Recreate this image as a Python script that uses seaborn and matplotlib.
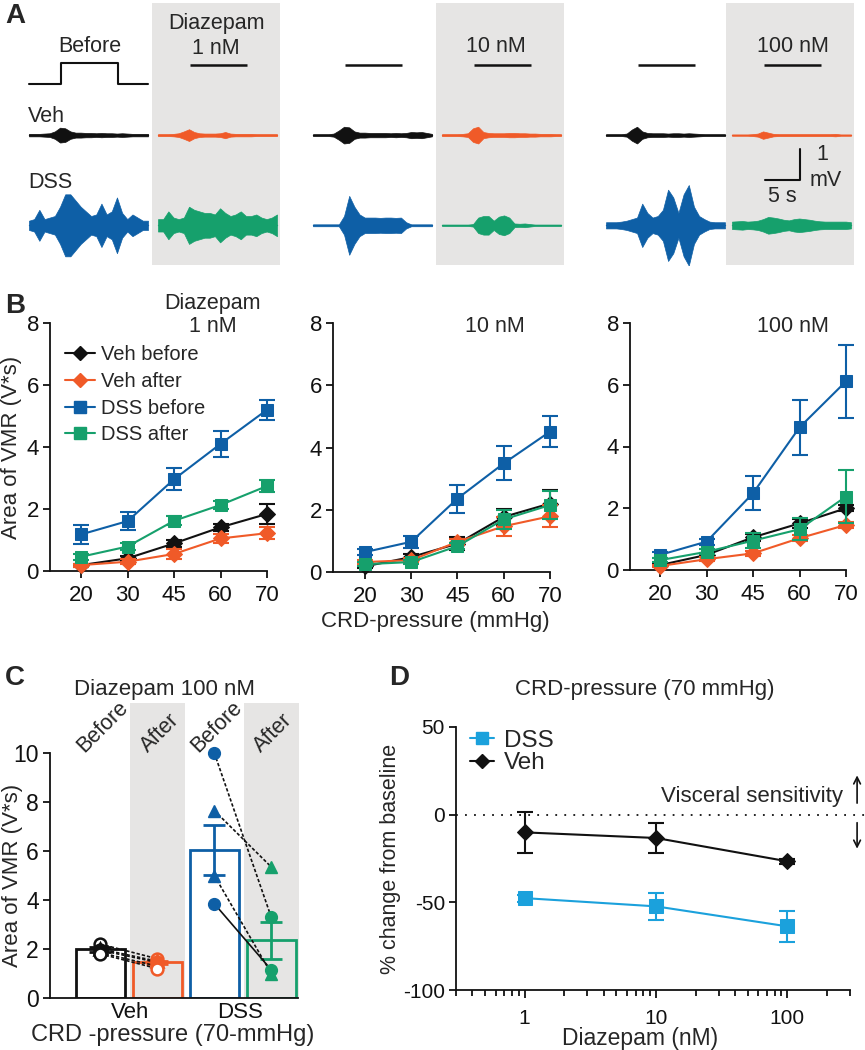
import numpy as np
import matplotlib
matplotlib.use("Agg")
import matplotlib.pyplot as plt
import seaborn as sns
from matplotlib.lines import Line2D
from matplotlib.patches import Rectangle
from matplotlib.ticker import LogLocator, FixedLocator, FixedFormatter, NullFormatter

# ---------------- data ----------------
# panel A: EMG envelopes (mV, half-amplitude), 24 samples over a 17 s sweep
sweep_s = 17
pressure_on = [4.6, 12.7]
conc_labels = ["1 nM", "10 nM", "100 nM"]
veh_before_env = [
    [0.04, 0.04, 0.04, 0.05, 0.06, 0.12, 0.24, 0.22, 0.12, 0.08, 0.08, 0.07, 0.07, 0.06, 0.07, 0.06, 0.06, 0.05, 0.06, 0.05, 0.04, 0.04, 0.04, 0.04],
    [0.03, 0.03, 0.03, 0.03, 0.05, 0.15, 0.27, 0.25, 0.12, 0.08, 0.08, 0.07, 0.07, 0.07, 0.07, 0.06, 0.07, 0.06, 0.07, 0.10, 0.09, 0.10, 0.07, 0.04],
    [0.03, 0.03, 0.03, 0.03, 0.05, 0.18, 0.27, 0.12, 0.07, 0.06, 0.06, 0.06, 0.05, 0.06, 0.06, 0.05, 0.06, 0.05, 0.04, 0.03, 0.03, 0.03, 0.03, 0.03],
]
veh_after_env = [
    [0.03, 0.03, 0.03, 0.04, 0.06, 0.12, 0.19, 0.10, 0.06, 0.05, 0.05, 0.05, 0.06, 0.10, 0.05, 0.04, 0.04, 0.04, 0.04, 0.03, 0.03, 0.03, 0.03, 0.03],
    [0.03, 0.03, 0.03, 0.03, 0.04, 0.06, 0.22, 0.27, 0.10, 0.07, 0.06, 0.06, 0.06, 0.07, 0.07, 0.06, 0.06, 0.05, 0.05, 0.04, 0.04, 0.04, 0.03, 0.03],
    [0.02, 0.02, 0.02, 0.02, 0.03, 0.05, 0.12, 0.08, 0.04, 0.03, 0.03, 0.03, 0.03, 0.03, 0.03, 0.03, 0.03, 0.03, 0.03, 0.03, 0.04, 0.02, 0.02, 0.02],
]
dss_before_env = [
    [0.15, 0.20, 0.50, 0.20, 0.25, 0.30, 0.60, 1.00, 1.00, 0.80, 0.60, 0.45, 0.30, 0.35, 0.70, 0.35, 0.45, 0.90, 0.40, 0.20, 0.35, 0.25, 0.15, 0.15],
    [0.03, 0.03, 0.03, 0.03, 0.03, 0.03, 0.30, 0.95, 0.60, 0.35, 0.25, 0.25, 0.25, 0.24, 0.25, 0.25, 0.24, 0.25, 0.10, 0.03, 0.03, 0.03, 0.03, 0.03],
    [0.10, 0.10, 0.10, 0.12, 0.15, 0.20, 0.25, 0.70, 0.40, 0.25, 0.30, 0.50, 1.15, 0.90, 0.40, 1.00, 1.30, 0.60, 0.30, 0.20, 0.12, 0.10, 0.10, 0.10],
]
dss_after_env = [
    [0.20, 0.20, 0.45, 0.25, 0.20, 0.25, 0.60, 0.50, 0.45, 0.40, 0.40, 0.35, 0.55, 0.40, 0.30, 0.35, 0.45, 0.30, 0.30, 0.35, 0.25, 0.20, 0.25, 0.35],
    [0.02, 0.02, 0.02, 0.02, 0.02, 0.02, 0.04, 0.25, 0.30, 0.30, 0.15, 0.28, 0.32, 0.25, 0.06, 0.05, 0.06, 0.04, 0.02, 0.02, 0.02, 0.02, 0.02, 0.02],
    [0.12, 0.13, 0.14, 0.12, 0.13, 0.15, 0.20, 0.27, 0.25, 0.22, 0.18, 0.16, 0.20, 0.22, 0.20, 0.18, 0.15, 0.13, 0.12, 0.12, 0.12, 0.12, 0.12, 0.10],
]

# panel B: area of VMR (V*s), mean and SEM for 1, 10, 100 nM
pressures = [20, 30, 45, 60, 70]
veh_before_mean = [[0.19, 0.41, 0.89, 1.41, 1.84], [0.18, 0.48, 0.91, 1.77, 2.20], [0.16, 0.49, 1.06, 1.51, 2.00]]
veh_before_sem = [[0.05, 0.08, 0.12, 0.12, 0.33], [0.05, 0.10, 0.20, 0.25, 0.45], [0.04, 0.06, 0.12, 0.15, 0.10]]
veh_after_mean = [[0.19, 0.30, 0.55, 1.05, 1.22], [0.32, 0.38, 0.97, 1.47, 1.79], [0.13, 0.35, 0.54, 1.03, 1.46]]
veh_after_sem = [[0.05, 0.08, 0.17, 0.15, 0.20], [0.05, 0.06, 0.10, 0.30, 0.35], [0.04, 0.06, 0.08, 0.10, 0.10]]
dss_before_mean = [[1.18, 1.61, 2.96, 4.10, 5.20], [0.64, 0.97, 2.36, 3.49, 4.51], [0.49, 0.92, 2.49, 4.62, 6.11]]
dss_before_sem = [[0.30, 0.30, 0.35, 0.43, 0.32], [0.10, 0.20, 0.45, 0.55, 0.50], [0.10, 0.10, 0.55, 0.88, 1.18]]
dss_after_mean = [[0.46, 0.79, 1.62, 2.13, 2.74], [0.25, 0.32, 0.83, 1.69, 2.15], [0.32, 0.59, 0.95, 1.32, 2.38]]
dss_after_sem = [[0.10, 0.10, 0.15, 0.12, 0.20], [0.06, 0.06, 0.10, 0.30, 0.45], [0.06, 0.08, 0.25, 0.35, 0.85]]

# panel C: 100 nM, 70 mmHg
c_groups = ["Veh before", "Veh after", "DSS before", "DSS after"]
c_means = [1.98, 1.45, 6.05, 2.35]
c_sem = [0.10, 0.08, 1.03, 0.76]
veh_pts_before = [2.20, 2.00, 1.95, 1.85, 1.80]
veh_pts_after = [1.60, 1.50, 1.45, 1.30, 1.20]
veh_pts_marker = ["o", "^", "o", "o", "o"]
veh_pts_filled = [False, True, True, True, False]
dss_pts_before = [10.0, 7.65, 5.0, 3.85]
dss_pts_after = [3.3, 5.35, 1.0, 1.15]
dss_pts_marker = ["o", "^", "^", "o"]
dss_pts_style = [":", ":", ":", "-"]

# panel D: % change from baseline at 70 mmHg
d_conc = [1, 10, 100]
d_dss_mean = [-47.6, -52.3, -63.7]
d_dss_sem = [2.0, 7.7, 9.0]
d_veh_mean = [-10.1, -13.3, -26.6]
d_veh_sem = [11.5, 8.5, 1.5]

# ---------------- style ----------------
BLACK = "#111111"
ORANGE = "#f05a28"
BLUE = "#0e5fa6"
GREEN = "#16a06c"
LBLUE = "#1ba1dc"
GRAY = "#e6e5e4"

sns.set_theme(style="white")
plt.rcParams["font.family"] = ["Liberation Sans", "DejaVu Sans"]
plt.rcParams["axes.unicode_minus"] = False
plt.rcParams["axes.linewidth"] = 1.3
plt.rcParams["xtick.color"] = BLACK
plt.rcParams["ytick.color"] = BLACK

W, H = 865, 1050
fig = plt.figure(figsize=(W / 100, H / 100), dpi=100)


def box(l, t, r, b):
    return [l / W, 1 - b / H, (r - l) / W, (b - t) / H]


def style_axes(ax, fs=16):
    sns.despine(ax=ax)
    ax.tick_params(axis="both", which="major", direction="out", length=5, width=1.3,
                   labelsize=fs, colors=BLACK, bottom=True, left=True)
    for s in ["left", "bottom"]:
        ax.spines[s].set_color(BLACK)


# ---------------- panel A ----------------
PX_S, PX_MV = 7.0, 31.0
ax_a = fig.add_axes(box(0, 0, 865, 265))
ax_a.set_xlim(0, W / PX_S)
ax_a.set_ylim(0, 265 / PX_MV)
ax_a.axis("off")

before_start = [29 / PX_S, 313 / PX_S, 606 / PX_S]
after_start = [158 / PX_S, 442 / PX_S, 732 / PX_S]
y_press, y_veh, y_dss = 5.84, 4.19, 1.28
t = np.linspace(0, sweep_s, 24)

for i in range(3):
    ax_a.axvspan(after_start[i] - 0.8, after_start[i] + 17.4, ymin=0.0, ymax=0.99,
                 color=GRAY, lw=0, zorder=0)
    for start, env, col, base in [
        (before_start[i], veh_before_env[i], BLACK, y_veh),
        (after_start[i], veh_after_env[i], ORANGE, y_veh),
        (before_start[i], dss_before_env[i], BLUE, y_dss),
        (after_start[i], dss_after_env[i], GREEN, y_dss),
    ]:
        env = np.array(env)
        ax_a.fill_between(start + t, base - env, base + env, color=col, lw=0.5)
        ax_a.plot(start + t, np.full_like(t, base), color=col, lw=1.0)
    # pressure bars
    if i > 0:
        ax_a.plot([before_start[i] + pressure_on[0], before_start[i] + pressure_on[1]],
                  [6.45, 6.45], color=BLACK, lw=1.8, solid_capstyle="butt")
    ax_a.plot([after_start[i] + pressure_on[0], after_start[i] + pressure_on[1]],
              [6.45, 6.45], color=BLACK, lw=1.8, solid_capstyle="butt")

# pressure step trace
step_x = before_start[0] + np.array([0, pressure_on[0], pressure_on[0], pressure_on[1], pressure_on[1], sweep_s])
step_y = y_press + np.array([0, 0, 0.68, 0.68, 0, 0])
ax_a.plot(step_x, step_y, color=BLACK, lw=1.5)

fs_a = 15.5
fig.text(90 / W, 1 - 47 / H, "Before", ha="center", va="center", size=fs_a)
fig.text(216 / W, 1 - 23 / H, "Diazepam", ha="center", va="center", size=fs_a)
fig.text(216 / W, 1 - 48 / H, conc_labels[0], ha="center", va="center", size=fs_a)
fig.text(496 / W, 1 - 47 / H, conc_labels[1], ha="center", va="center", size=fs_a)
fig.text(793 / W, 1 - 47 / H, conc_labels[2], ha="center", va="center", size=fs_a)
fig.text(28 / W, 1 - 117 / H, "Veh", ha="left", va="center", size=fs_a)
fig.text(28 / W, 1 - 183 / H, "DSS", ha="left", va="center", size=fs_a)

# scale bar 5 s / 1 mV
sb_x, sb_y = 800 / PX_S, (265 - 180) / PX_MV
ax_a.plot([sb_x - 5, sb_x, sb_x], [sb_y, sb_y, sb_y + 1], color=BLACK, lw=1.5)
fig.text(822 / W, 1 - 155 / H, "1", ha="center", va="center", size=fs_a)
fig.text(826 / W, 1 - 181 / H, "mV", ha="center", va="center", size=fs_a)
fig.text(782 / W, 1 - 196 / H, "5 s", ha="center", va="center", size=fs_a)

# ---------------- panel B ----------------
b_boxes = [(50, 323, 267, 571), (333, 323, 550, 572), (630, 323, 846, 570)]
b_left = [-0.67, -0.69, -0.65]
xpos = np.arange(len(pressures))
series = [
    ("Veh before", veh_before_mean, veh_before_sem, BLACK, "D", 8),
    ("Veh after", veh_after_mean, veh_after_sem, ORANGE, "D", 8),
    ("DSS before", dss_before_mean, dss_before_sem, BLUE, "s", 9),
    ("DSS after", dss_after_mean, dss_after_sem, GREEN, "s", 9),
]
b_axes = []
for i in range(3):
    ax = fig.add_axes(box(*b_boxes[i]))
    b_axes.append(ax)
    for k, (name, mean, sem, col, mk, ms) in enumerate(series):
        sns.lineplot(x=xpos, y=mean[i], ax=ax, color=col, marker=mk, markersize=ms,
                     markeredgecolor=col, linewidth=1.5, errorbar=None, clip_on=False,
                     zorder=3 + k)
        ax.errorbar(xpos, mean[i], yerr=sem[i], fmt="none", ecolor=col, elinewidth=1.5,
                    capsize=5.5, capthick=1.5, clip_on=False, zorder=3 + k)
    ax.set_xlim(b_left[i], 4)
    ax.set_ylim(0, 8)
    ax.set_xticks(xpos)
    ax.set_xticklabels([str(p) for p in pressures])
    ax.set_yticks([0, 2, 4, 6, 8])
    style_axes(ax, fs=16)
    ax.tick_params(axis="x", pad=5)
    ax.tick_params(axis="y", pad=3)
    ax.set_xlabel("")
    ax.set_ylabel("")

b_axes[0].set_ylabel("Area of VMR (V*s)", size=16)
b_axes[0].yaxis.set_label_coords(-0.13, 0.5)
handles = [Line2D([0], [0], color=c, marker=mk, markersize=ms * 0.9, lw=1.5, markeredgecolor=c)
           for (_, _, _, c, mk, ms) in series]
b_axes[0].legend(handles, [s[0] for s in series], loc="upper left",
                 bbox_to_anchor=(0.07, 0.91), frameon=False, fontsize=14.5,
                 handlelength=1.5, handletextpad=0.3, labelspacing=0.38, borderpad=0,
                 borderaxespad=0)
fig.text(213 / W, 1 - 303 / H, "Diazepam", ha="center", va="center", size=15.5)
fig.text(213 / W, 1 - 327 / H, conc_labels[0], ha="center", va="center", size=15.5)
fig.text(495 / W, 1 - 327 / H, conc_labels[1], ha="center", va="center", size=15.5)
fig.text(793 / W, 1 - 327 / H, conc_labels[2], ha="center", va="center", size=15.5)
fig.text(435 / W, 1 - 622 / H, "CRD-pressure (mmHg)", ha="center", va="center", size=16)

# ---------------- panel C ----------------
ax_c = fig.add_axes(box(50, 753, 298, 998))
c_colors = [BLACK, ORANGE, BLUE, GREEN]
for xc in [1, 3]:
    ax_c.add_patch(Rectangle((xc - 0.48, 0), 0.96, 12.04, facecolor=GRAY, edgecolor="none",
                             clip_on=False, zorder=0))
sns.barplot(x=c_groups, y=c_means, hue=c_groups, palette=c_colors, order=c_groups,
            hue_order=c_groups, fill=False, linewidth=2, width=0.86, errorbar=None,
            legend=False, ax=ax_c, zorder=2)
for j in range(4):
    ax_c.errorbar(j, c_means[j], yerr=c_sem[j], fmt="none", ecolor=c_colors[j],
                  elinewidth=2, capsize=8, capthick=2, zorder=3, clip_on=False)

for k in range(len(veh_pts_before)):
    ax_c.plot([0, 1], [veh_pts_before[k], veh_pts_after[k]], ls=(0, (2, 1.2)), color=BLACK,
              lw=1.2, zorder=4)
    for xj, yv, col in [(0, veh_pts_before[k], BLACK), (1, veh_pts_after[k], ORANGE)]:
        ax_c.plot(xj, yv, marker=veh_pts_marker[k], markersize=8.5,
                  markerfacecolor=col if veh_pts_filled[k] else "white",
                  markeredgecolor=col, markeredgewidth=1.8, zorder=5)
for k in range(len(dss_pts_before)):
    ls = (0, (2, 1.2)) if dss_pts_style[k] == ":" else "-"
    ax_c.plot([2, 3], [dss_pts_before[k], dss_pts_after[k]], ls=ls, color=BLACK, lw=1.2,
              zorder=4)
    ax_c.plot(2, dss_pts_before[k], marker=dss_pts_marker[k], markersize=8.5, color=BLUE,
              markeredgecolor=BLUE, zorder=5, clip_on=False)
    ax_c.plot(3, dss_pts_after[k], marker=dss_pts_marker[k], markersize=8.5, color=GREEN,
              markeredgecolor=GREEN, zorder=5, clip_on=False)

ax_c.set_xlim(-0.886, 3.47)
ax_c.set_ylim(0, 10)
ax_c.set_yticks([0, 2, 4, 6, 8, 10])
style_axes(ax_c, fs=16.5)
ax_c.set_xticks([0.52, 2.45])
ax_c.set_xticklabels(["Veh", "DSS"])
ax_c.tick_params(axis="x", length=0, pad=3, labelsize=16)
ax_c.tick_params(axis="y", pad=3)
ax_c.set_xlabel("")
ax_c.set_ylabel("Area of VMR (V*s)", size=16)
ax_c.yaxis.set_label_coords(-0.11, 0.5)
for xj, lab, yv in [(0.04, "Before", 11.06), (1.04, "After", 10.8), (2.04, "Before", 11.06),
                    (3.04, "After", 10.8)]:
    ax_c.text(xj, yv, lab, rotation=45, ha="center", va="center", size=15.5, clip_on=False)
fig.text(165 / W, 1 - 690 / H, "Diazepam 100 nM", ha="center", va="center", size=16)
fig.text(173 / W, 1 - 1035 / H, "CRD -pressure (70-mmHg)", ha="center", va="center", size=17)

# ---------------- panel D ----------------
ax_d = fig.add_axes(box(456, 727, 850, 990))
ax_d.set_xscale("log")
sns.lineplot(x=d_conc, y=d_dss_mean, ax=ax_d, color=LBLUE, marker="s", markersize=9.5,
             markeredgecolor=LBLUE, linewidth=1.5, errorbar=None, zorder=3)
ax_d.errorbar(d_conc, d_dss_mean, yerr=d_dss_sem, fmt="none", ecolor=LBLUE, elinewidth=1.5,
              capsize=6, capthick=1.5, zorder=3)
sns.lineplot(x=d_conc, y=d_veh_mean, ax=ax_d, color=BLACK, marker="D", markersize=8,
             markeredgecolor=BLACK, linewidth=1.5, errorbar=None, zorder=4)
ax_d.errorbar(d_conc, d_veh_mean, yerr=d_veh_sem, fmt="none", ecolor=BLACK, elinewidth=1.5,
              capsize=6, capthick=1.5, zorder=4)
ax_d.set_xlim(0.3, 300)
ax_d.set_ylim(-100, 50)
ax_d.set_yticks([50, 0, -50, -100])
ax_d.xaxis.set_major_locator(FixedLocator([1, 10, 100]))
ax_d.xaxis.set_major_formatter(FixedFormatter(["1", "10", "100"]))
ax_d.xaxis.set_minor_locator(LogLocator(base=10, subs=np.arange(2, 10), numticks=20))
ax_d.xaxis.set_minor_formatter(NullFormatter())
style_axes(ax_d, fs=15)
ax_d.tick_params(axis="x", which="major", length=6, pad=8)
ax_d.tick_params(axis="x", which="minor", length=4, width=1.3, bottom=True, color=BLACK)
ax_d.tick_params(axis="y", pad=3)
ax_d.set_xlabel("")
ax_d.set_ylabel("% change from baseline", size=15.5)
ax_d.yaxis.set_label_coords(-0.14, 0.5)
ax_d.plot([0, 1.04], [0, 0], transform=ax_d.get_yaxis_transform(), ls=(0, (1, 4)),
          color=BLACK, lw=1.3, clip_on=False, zorder=1)
ax_d.text(0.982, 10.3, "Visceral sensitivity", transform=ax_d.get_yaxis_transform(),
          ha="right", va="center", size=16)
ax_d.annotate("", xy=(1.018, 24), xytext=(1.018, 5), xycoords=ax_d.get_yaxis_transform(),
              arrowprops=dict(arrowstyle="->", color=BLACK, lw=1.2), annotation_clip=False)
ax_d.annotate("", xy=(1.018, -21), xytext=(1.018, -3), xycoords=ax_d.get_yaxis_transform(),
              arrowprops=dict(arrowstyle="->", color=BLACK, lw=1.2), annotation_clip=False)
d_handles = [Line2D([0], [0], color=LBLUE, marker="s", markersize=9, lw=1.5),
             Line2D([0], [0], color=BLACK, marker="D", markersize=7.5, lw=1.5)]
ax_d.legend(d_handles, ["DSS", "Veh"], loc="upper left", bbox_to_anchor=(0.035, 0.99),
            frameon=False, fontsize=17.5, handlelength=1.0, handletextpad=0.4,
            labelspacing=0.02, borderpad=0, borderaxespad=0)
fig.text(645 / W, 1 - 690 / H, "CRD-pressure (70 mmHg)", ha="center", va="center", size=16)
fig.text(640 / W, 1 - 1038 / H, "Diazepam (nM)", ha="center", va="center", size=16.5)

# panel letters
for lab, x, y in [("A", 5, 3), ("B", 5, 293), ("C", 5, 665), ("D", 389, 665)]:
    fig.text(x / W, 1 - y / H, lab, ha="left", va="top", size=20, weight="bold")

fig.savefig("out.png", dpi=100)
